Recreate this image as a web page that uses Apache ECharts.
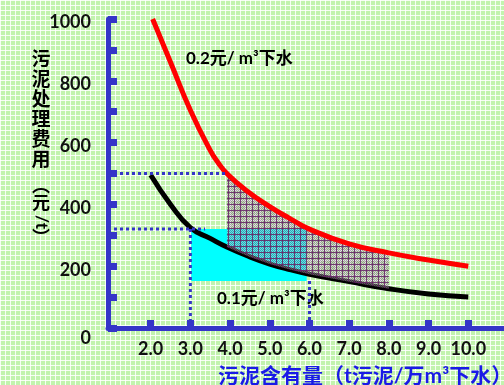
<!DOCTYPE html>
<html>
<head>
<meta charset="utf-8">
<script src="https://cdn.jsdelivr.net/npm/echarts@6/dist/echarts.min.js"></script>
<style>
html, body { margin: 0; padding: 0; }
#chart { width: 504px; height: 385px; }
</style>
</head>
<body>
<div id="chart"></div>
<script>
// 污泥含有量 (t污泥/万m3下水) —— 0.2元/m3下水 曲线
const highX = [2.05, 2.5, 3.0, 3.5, 3.7, 3.92, 4.4, 5.0, 5.5, 6.0, 7.0, 8.0, 9.0, 10.0];
const highCost = [1000, 860, 705, 575, 535, 500, 446, 393, 355, 320, 272, 243, 220, 200];
// 0.1元/m3下水 曲线
const lowX = [2.0, 2.5, 3.0, 3.5, 3.92, 4.5, 5.0, 5.5, 6.0, 7.0, 8.0, 9.0, 10.0];
const lowCost = [495, 400, 325, 290, 262, 230, 207, 189, 174, 150, 127, 110, 100];
const xTicks = [2, 3, 4, 5, 6, 7, 8, 9, 10];
// 网格阴影区的范围
const hatchFrom = 3.92;
const hatchTo = 8.0;
// 青色块 [x0, yTop, x1, yBottom]
const cyanBlock = [3.02, 320, 5.93, 152];
// 蓝色虚线
const guideLines = [
    [[0.925, 500], [3.92, 500]],
    [[0.925, 320], [3.37, 320]],
    [[3.0, 320], [3.0, 0]],
    [[6.0, 152], [6.0, 0]]
];

const FONT = 'Lato, "Noto Sans CJK SC", sans-serif';
const BLUE = '#3535c8';

// 背景的浅绿网格
function makeBg() {
    const c = document.createElement('canvas');
    c.width = 5; c.height = 5;
    const ctx = c.getContext('2d');
    ctx.fillStyle = '#c2f3ae';
    ctx.fillRect(0, 0, 5, 5);
    ctx.fillStyle = 'rgba(255,255,255,0.85)';
    ctx.fillRect(0, 0, 5, 1);
    ctx.fillRect(0, 0, 1, 5);
    return c;
}

// 紫色格子填充
function makeHatch() {
    const c = document.createElement('canvas');
    c.width = 6; c.height = 6;
    const ctx = c.getContext('2d');
    for (let i = 0; i < 6; i++) {
        for (let j = 0; j < 6; j++) {
            ctx.fillStyle = (i + j) % 2 === 0 ? 'rgba(110,80,110,0.55)' : 'rgba(205,205,205,0.45)';
            ctx.fillRect(i, j, 1, 1);
        }
    }
    ctx.fillStyle = 'rgba(100,35,100,0.85)';
    ctx.fillRect(0, 0, 6, 1);
    ctx.fillRect(0, 0, 1, 6);
    return c;
}

const bgPattern = { image: makeBg(), repeat: 'repeat' };
const hatchPattern = { image: makeHatch(), repeat: 'repeat' };

const highData = highX.map((x, i) => [x, highCost[i]]);
const lowData = lowX.map((x, i) => [x, lowCost[i]]);

const yNameChars = ['污', '泥', '处', '理', '费', '用'];
const graphics = [
    { type: 'rect', z: -10, silent: true, shape: { x: 0, y: 0, width: 504, height: 385 }, style: { fill: bgPattern } },
    { type: 'text', x: 218, y: 376, style: { text: '污泥含有量（t污泥/万m³下水）', fill: '#1a1ae6', font: 'bold 21px ' + FONT, textVerticalAlign: 'middle' } },
    { type: 'text', x: 186, y: 59, style: { text: '0.2元/ m³下水', fill: '#000', font: 'bold 17px ' + FONT, textVerticalAlign: 'middle' } },
    { type: 'text', x: 217, y: 299, style: { text: '0.1元/ m³下水', fill: '#000', font: 'bold 17px ' + FONT, textVerticalAlign: 'middle' } },
    { type: 'text', x: 41, y: 186, style: { text: '︵', fill: '#000', font: 'bold 18px ' + FONT, textAlign: 'center', textVerticalAlign: 'middle' } },
    { type: 'text', x: 41, y: 203, style: { text: '元', fill: '#000', font: 'bold 18px ' + FONT, textAlign: 'center', textVerticalAlign: 'middle' } },
    { type: 'text', x: 41, y: 222, rotation: -Math.PI / 2, style: { text: '/t', fill: '#000', font: 'bold 17px ' + FONT, textAlign: 'center', textVerticalAlign: 'middle' } },
    { type: 'text', x: 41, y: 238, style: { text: '︶', fill: '#000', font: 'bold 18px ' + FONT, textAlign: 'center', textVerticalAlign: 'middle' } }
];
yNameChars.forEach((ch, i) => {
    graphics.push({ type: 'text', x: 41, y: 60 + i * 20, style: { text: ch, fill: '#000', font: 'bold 19px ' + FONT, textAlign: 'center', textVerticalAlign: 'middle' } });
});

const guideSeries = guideLines.map((seg) => ({
    type: 'line',
    z: 6,
    silent: true,
    symbol: 'none',
    data: seg,
    lineStyle: { color: BLUE, width: 3, type: [3, 3] }
}));

const chart = echarts.init(document.getElementById('chart'));
chart.setOption({
    animation: false,
    graphic: graphics,
    grid: { left: 108, right: 0, top: 19, bottom: 57 },
    xAxis: {
        type: 'value',
        min: 0.925,
        max: 10.9,
        splitLine: { show: false },
        axisLine: { lineStyle: { color: BLUE, width: 5 } },
        axisTick: { inside: true, length: 8, customValues: xTicks, lineStyle: { color: BLUE, width: 7 } },
        axisLabel: {
            customValues: xTicks,
            margin: 12,
            color: '#111',
            fontWeight: 'bold',
            fontSize: 18,
            fontFamily: FONT,
            formatter: (v) => v.toFixed(1)
        }
    },
    yAxis: {
        type: 'value',
        min: 0,
        max: 1000,
        interval: 100,
        splitLine: { show: false },
        axisLine: { onZero: false, lineStyle: { color: BLUE, width: 5 } },
        axisTick: { inside: true, length: 9, lineStyle: { color: BLUE, width: 7 } },
        axisLabel: {
            margin: 17,
            color: '#111',
            fontWeight: 'bold',
            fontSize: 18,
            fontFamily: FONT,
            // 只显示 0, 200, 400 ...
            formatter: (v) => {
                if (v % 200 !== 0) return '';
                return v === 0 ? '{z|0}' : '{n|' + v + '}';
            },
            rich: {
                z: { padding: [20, 0, 0, 0], fontWeight: 'bold', fontSize: 18, fontFamily: FONT, color: '#111' },
                n: { padding: [7, 0, 0, 0], fontWeight: 'bold', fontSize: 18, fontFamily: FONT, color: '#111' }
            }
        }
    },
    series: [
        {
            // 青色块
            type: 'custom',
            z: 1,
            silent: true,
            data: [cyanBlock],
            renderItem: (params, api) => {
                const p0 = api.coord([api.value(0), api.value(1)]);
                const p1 = api.coord([api.value(2), api.value(3)]);
                return {
                    type: 'rect',
                    shape: { x: p0[0], y: p0[1], width: p1[0] - p0[0], height: p1[1] - p0[1] },
                    style: { fill: '#00ffff' }
                };
            }
        },
        {
            name: '0.1元/m3下水',
            type: 'line',
            z: 2,
            smooth: 0.5,
            symbol: 'none',
            data: lowData,
            lineStyle: { color: '#000', width: 5 }
        },
        {
            // 两条曲线之间的网格区
            type: 'custom',
            z: 3,
            silent: true,
            data: [[hatchFrom, hatchTo]],
            renderItem: (params, api) => {
                const top = [];
                const bottom = [];
                highX.forEach((x, i) => {
                    if (x >= hatchFrom && x <= hatchTo) top.push(api.coord([x, highCost[i]]));
                });
                lowX.forEach((x, i) => {
                    if (x >= hatchFrom && x <= hatchTo) bottom.push(api.coord([x, lowCost[i]]));
                });
                return {
                    type: 'polygon',
                    shape: { points: top.concat(bottom.reverse()) },
                    style: { fill: hatchPattern }
                };
            }
        },
        {
            name: '0.2元/m3下水',
            type: 'line',
            z: 4,
            smooth: 0.5,
            symbol: 'none',
            data: highData,
            lineStyle: { color: '#ff0000', width: 5 }
        }
    ].concat(guideSeries)
});
</script>
</body>
</html>
